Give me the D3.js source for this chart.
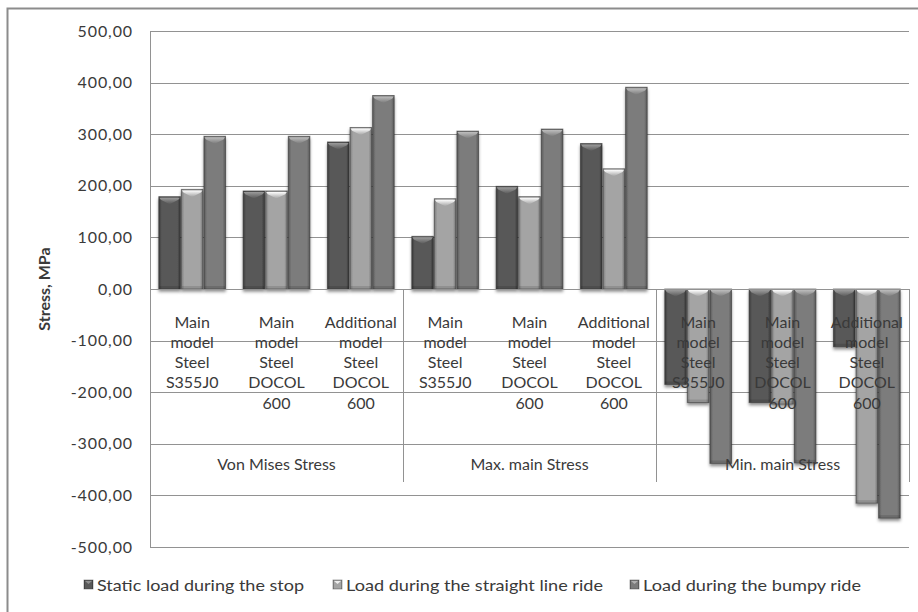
<!DOCTYPE html>
<html>
<head>
<meta charset="utf-8">
<script src="https://cdn.jsdelivr.net/npm/d3@7/dist/d3.min.js"></script>
<style>
  html, body { margin: 0; padding: 0; background: #fff; }
  svg { display: block; }
  text { font-family: Lato, "Open Sans", sans-serif; fill: #3a3a3a; }
</style>
</head>
<body>
<svg id="chart" width="918" height="612"></svg>
<script>
// ---------- DATA ----------
const groups = ["Von Mises Stress", "Max. main Stress", "Min. main Stress"];
const subcategories = ["Main model Steel S355J0", "Main model Steel DOCOL 600", "Additional model Steel DOCOL 600"];
const seriesNames = ["Static load during the stop", "Load during the straight line ride", "Load during the bumpy ride"];
// values in category order: group 1 (3 subcats), group 2, group 3
const staticLoad   = [179, 190, 285, 102, 199, 282, -185, -220, -112];
const straightLine = [193, 190, 313, 175, 179, 233, -220, -223, -415];
const bumpyRide    = [296, 296, 375, 306, 310, 391, -338, -337, -444];
const yTicks = [500, 400, 300, 200, 100, 0, -100, -200, -300, -400, -500];
const yTitle = "Stress, MPa";

// ---------- LAYOUT / STYLE ----------
const W = 918, H = 612;
const plot = { left: 150, right: 909, top: 31, bottom: 547 };
const seriesStyle = [
  { edge: "#3a3a3a", mid: "#595959", hi: "#9c9c9c" },
  { edge: "#7d7d7d", mid: "#a4a4a4", hi: "#ffffff" },
  { edge: "#5a5a5a", mid: "#7b7b7b", hi: "#bdbdbd" }
];
const legendTextWidths = [207, 257, 218];
const legendX = [84, 333, 630];

const svg = d3.select("#chart");
const defs = svg.append("defs");

// gradients
seriesStyle.forEach((s, i) => {
  const g = defs.append("linearGradient").attr("id", "bar" + i)
    .attr("x1", "0").attr("x2", "1").attr("y1", "0").attr("y2", "0");
  g.append("stop").attr("offset", "0").attr("stop-color", s.edge);
  g.append("stop").attr("offset", "0.14").attr("stop-color", s.mid);
  g.append("stop").attr("offset", "0.86").attr("stop-color", s.mid);
  g.append("stop").attr("offset", "1").attr("stop-color", s.edge);
  const h = defs.append("linearGradient").attr("id", "hi" + i)
    .attr("x1", "0").attr("x2", "0").attr("y1", "0").attr("y2", "1");
  h.append("stop").attr("offset", "0").attr("stop-color", s.hi);
  h.append("stop").attr("offset", "1").attr("stop-color", s.mid);
});
const f = defs.append("filter").attr("id", "shadow")
  .attr("x", "-30%").attr("y", "-10%").attr("width", "160%").attr("height", "130%");
f.append("feDropShadow").attr("dx", 0).attr("dy", 2.5).attr("stdDeviation", 1.8)
  .attr("flood-color", "#000").attr("flood-opacity", 0.45);

// outer border
svg.append("rect").attr("x", 7.5).attr("y", 8.5).attr("width", W + 20).attr("height", H + 20)
  .attr("fill", "none").attr("stroke", "#8c8c8c").attr("stroke-width", 2);

// scales
const y = d3.scaleLinear().domain([-500, 500]).range([plot.bottom, plot.top]);
const catKeys = [];
groups.forEach((g, gi) => subcategories.forEach((s, si) => catKeys.push(gi + "|" + si)));
const x0 = d3.scaleBand().domain(catKeys).range([plot.left, plot.right]).padding(0);
const x1 = d3.scaleBand().domain(d3.range(seriesNames.length))
  .range([0, x0.bandwidth()]).paddingInner(0).paddingOuter(0.368);
const xg = d3.scaleBand().domain(groups).range([plot.left, plot.right]).padding(0);

const loc = d3.formatLocale({ decimal: ",", thousands: "", grouping: [3], currency: ["", ""], minus: "-" });
const fmt = loc.format(".2f");

// gridlines
svg.append("g").selectAll("line").data(yTicks).join("line")
  .attr("x1", plot.left).attr("x2", plot.right)
  .attr("y1", d => Math.round(y(d)) + 0.5).attr("y2", d => Math.round(y(d)) + 0.5)
  .attr("stroke", "#929292").attr("stroke-width", 1);

// y axis line
svg.append("line").attr("x1", plot.left + 0.5).attr("x2", plot.left + 0.5)
  .attr("y1", plot.top).attr("y2", plot.bottom).attr("stroke", "#929292");

// y tick labels via d3 axis
const yAxis = d3.axisLeft(y).tickValues(yTicks).tickFormat(fmt).tickSize(0).tickPadding(17);
const ya = svg.append("g").attr("transform", `translate(${plot.left},0)`).call(yAxis);
ya.select(".domain").remove();
ya.selectAll("text").attr("font-family", "Lato, sans-serif").attr("font-size", 16)
  .attr("letter-spacing", "0.9px").attr("fill", "#3a3a3a");

// y title
svg.append("text").attr("transform", `translate(50,${y(0)}) rotate(-90)`)
  .attr("text-anchor", "middle").attr("font-size", 16).attr("font-weight", "bold")
  .attr("fill", "#222").text(yTitle);

// bars
const seriesData = [staticLoad, straightLine, bumpyRide];
const barG = svg.append("g");
seriesData.forEach((vals, si) => {
  const bars = barG.append("g").selectAll("g").data(vals.map((v, ci) => ({ v, key: catKeys[ci] }))).join("g");
  bars.each(function (d) {
    const g = d3.select(this);
    const bx = x0(d.key) + x1(si);
    const bw = x1.bandwidth();
    const top = y(Math.max(0, d.v)), bot = y(Math.min(0, d.v));
    const h = bot - top;
    g.append("rect").attr("x", bx + 0.5).attr("y", top).attr("width", bw - 1).attr("height", h)
      .attr("fill", `url(#bar${si})`).attr("stroke", "#2e2e2e").attr("stroke-opacity", 0.55)
      .attr("stroke-width", 1).attr("filter", "url(#shadow)");
    // top bevel chevron
    const i = 2.5;
    g.append("polygon").attr("points", [
      [bx + 1, top + 1], [bx + bw - 1, top + 1], [bx + bw - i, top + 3.2],
      [bx + bw / 2, top + 7.5], [bx + i, top + 3.2]
    ].map(p => p.join(",")).join(" ")).attr("fill", `url(#hi${si})`);
    // bottom soft bevel
    g.append("rect").attr("x", bx + 1).attr("y", bot - 3).attr("width", bw - 2).attr("height", 2.5)
      .attr("fill", "#000").attr("opacity", 0.12);
  });
});

// zero line over bars baseline
svg.append("line").attr("x1", plot.left).attr("x2", plot.right)
  .attr("y1", Math.round(y(0)) + 0.5).attr("y2", Math.round(y(0)) + 0.5)
  .attr("stroke", "#929292");

// group separators in the category axis
const sepBottom = 482;
const seps = groups.map(g => xg(g)).concat([plot.right]);
svg.append("g").selectAll("line").data(seps).join("line")
  .attr("x1", d => Math.round(d) + 0.5).attr("x2", d => Math.round(d) + 0.5)
  .attr("y1", y(0)).attr("y2", sepBottom).attr("stroke", "#929292");

// sub-category labels
const labG = svg.append("g");
catKeys.forEach(k => {
  const si = +k.split("|")[1];
  const words = subcategories[si].split(" ");
  const cx = x0(k) + x0.bandwidth() / 2;
  const t = labG.append("text").attr("text-anchor", "middle").attr("font-size", 16).attr("fill", "#3a3a3a");
  words.forEach((w, wi) => {
    t.append("tspan").attr("x", cx).attr("y", 327.5 + wi * 20.3).text(w);
  });
});

// group labels
svg.append("g").selectAll("text").data(groups).join("text")
  .attr("x", d => xg(d) + xg.bandwidth() / 2).attr("y", 470)
  .attr("text-anchor", "middle").attr("font-size", 16).attr("fill", "#3a3a3a").text(d => d);

// legend
const lg = svg.append("g");
seriesNames.forEach((n, i) => {
  lg.append("rect").attr("x", legendX[i]).attr("y", 580).attr("width", 9).attr("height", 9)
    .attr("fill", `url(#bar${i})`).attr("stroke", "#333").attr("stroke-opacity", 0.5).attr("stroke-width", 0.8);
  lg.append("polygon").attr("points", [
    [legendX[i] + 1, 581], [legendX[i] + 8, 581], [legendX[i] + 4.5, 584]
  ].map(p => p.join(",")).join(" ")).attr("fill", seriesStyle[i].hi).attr("opacity", 0.8);
  lg.append("text").attr("x", legendX[i] + 13).attr("y", 590.5).attr("font-size", 16)
    .attr("textLength", legendTextWidths[i]).attr("lengthAdjust", "spacingAndGlyphs")
    .attr("fill", "#3a3a3a").text(n);
});
</script>
</body>
</html>
